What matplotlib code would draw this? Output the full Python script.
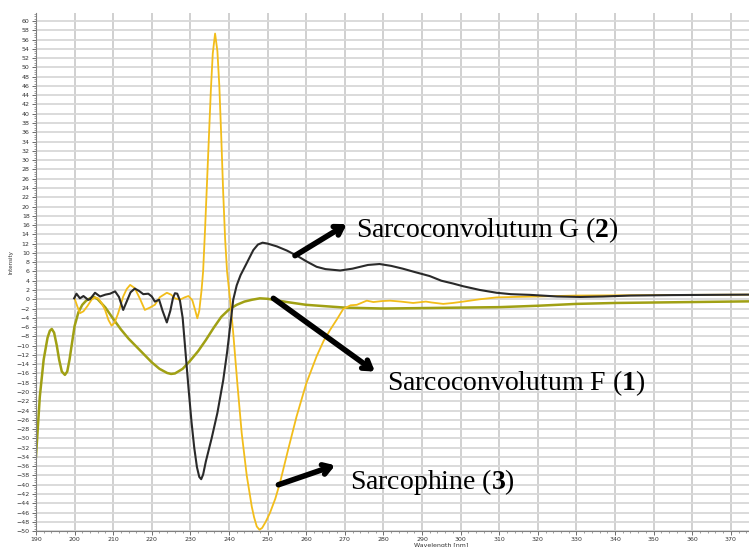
import matplotlib
matplotlib.use("Agg")
import matplotlib.pyplot as plt
from matplotlib.ticker import MultipleLocator

plt.rcParams['mathtext.fontset'] = 'custom'
plt.rcParams['mathtext.rm'] = 'Liberation Serif'
plt.rcParams['mathtext.bf'] = 'Liberation Serif:bold'

# Sarcoconvolutum F (1) - olive
wl_f = [190, 191, 192, 193, 193.6, 194.1, 194.7, 195.4, 196, 196.7, 197.5, 198.1, 198.7, 199.2,
        200, 201, 202, 203, 204, 205, 206, 208, 210, 212, 214, 216, 218, 220, 222, 224, 225,
        226, 228, 230, 232, 234, 236, 238, 240, 242, 244, 246, 248, 250, 255, 260, 265, 270,
        275, 280, 290, 300, 310, 320, 330, 340, 350, 360, 370, 375]
cd_f = [-34, -21, -13, -8.3, -6.8, -6.4, -7.2, -10, -13, -15.6, -16.3, -15.6, -13, -10.2,
        -5.8, -2.8, -1.2, -0.3, 0.2, 0.5, 0, -1.8, -4.2, -6.5, -8.5, -10.2, -11.9, -13.6, -15, -15.9,
        -16.1, -16, -15, -13.2, -11.2, -8.8, -6.2, -3.8, -2.2, -1.2, -0.5, -0.1, 0.2, 0.1, -0.6,
        -1.2, -1.5, -1.8, -1.9, -2.0, -1.9, -1.8, -1.7, -1.4, -1.0, -0.8, -0.7, -0.6, -0.5, -0.45]

# Sarcoconvolutum G (2) - black
wl_g = [199.9, 200.5, 201.4, 202.3, 203.5, 204, 205.3, 206.6, 208, 209.2, 210.5, 211.5, 212.6,
        213.5, 214.5, 215.6, 216.7, 217.8, 219.1, 220, 220.8, 221.9, 222.8, 223.9, 224.8, 225.5,
        226, 226.6, 227.3, 228, 228.7, 229.5, 230.3, 231, 231.7, 232.3, 232.8, 233.3, 234,
        235.5, 237, 238.5, 239.5, 240.5, 241.1, 242, 243, 244.6, 246.3, 247.5, 248.7, 250,
        252.4, 255, 258, 260, 262.7, 265, 268.8, 272, 276, 279, 282, 285, 288, 292, 295, 298,
        300.7, 305, 309.3, 313, 318, 325, 331, 337, 344, 355, 365, 375]
cd_g = [0.2, 1.2, 0.2, 0.7, -0.1, 0, 1.4, 0.6, 1.0, 1.2, 1.7, 0.5, -2.3,
        -0.5, 1.5, 2.3, 1.8, 1.1, 1.2, 0.6, -0.5, -0.1, -2.5, -5.0, -2.5, 0.3,
        1.3, 1.2, -0.3, -4, -11, -19, -26.5, -32, -36.2, -38.3, -38.8, -37.8, -35,
        -30, -24.5, -17.5, -11.5, -4.5, -0.1, 3, 5.2, 7.8, 10.6, 11.8, 12.2, 12.0,
        11.4, 10.5, 9.2, 8.2, 7, 6.5, 6.2, 6.6, 7.4, 7.6, 7.2, 6.6, 5.9, 5.0, 4.0, 3.4,
        2.8, 2.0, 1.4, 1.1, 0.95, 0.6, 0.5, 0.6, 0.8, 0.9, 0.95, 1.0]

# Sarcophine (3) - yellow
wl_s = [200, 200.7, 201.4, 202.3, 203.3, 204.4, 205.3, 206.1, 207, 207.9, 208.8, 209.6, 210.4,
        211.3, 212.6, 213.5, 214.4, 215.6, 217, 218.2, 219.5, 220.8, 222.1, 223.9, 225, 226,
        227.3, 228.5, 229.5, 230.5, 231.3, 231.8, 232.3, 232.9, 233.3, 233.8, 234.3, 234.8,
        235.3, 235.8, 236.4, 237, 237.5, 238, 238.5, 239, 239.5, 240.3, 241.1, 242.2, 243.3,
        244.6, 245.9, 246.5, 247.2, 247.9, 248.6, 249.5, 250.6, 252, 253.2, 255.3, 257.5, 260,
        262.7, 264.5, 266.2, 267.9, 269.6, 271.5, 273.1, 275.7, 277.4, 279.5, 281.7, 284.5,
        287.7, 291, 292.5, 295.5, 298, 300.7, 305, 309.3, 314, 319.7, 330, 340, 350, 360, 375]
cd_s = [0.2, -1.5, -3, -2.6, -1.5, -0.1, 0.4, 0.2, -0.8, -2.3, -4.5, -5.7, -5,
        -3, 0.6, 2.2, 3.1, 2.4, 0, -2.3, -1.8, -1.2, 0.45, 1.4, 1.0, 0.2,
        -0.1, 0.4, 0.7, -0.2, -2.5, -4.1, -2.5, 2, 6, 15, 25, 35,
        45, 53, 57.3, 53.5, 46, 35, 23, 13, 6, -0.1, -7.3, -18.5, -28.9,
        -38, -44.7, -47, -49, -49.7, -49.3, -48, -46.1, -43, -39.6, -32.5, -25.3, -18.2,
        -12.3, -9, -6.6, -4.4, -2.1, -1.3, -1.2, -0.3, -0.6, -0.4, -0.3, -0.5,
        -0.8, -0.5, -0.7, -1.0, -0.8, -0.5, 0, 0.4, 0.5, 0.6, 0.8, 0.85, 0.9, 0.95, 1.0]

fig = plt.figure(figsize=(7.49, 5.47), dpi=100)
ax = fig.add_axes([0.048, 0.029, 0.952, 0.947])

ax.plot(wl_f, cd_f, color='#a0a014', lw=1.8)
ax.plot(wl_s, cd_s, color='#f2bd1a', lw=1.3)
ax.plot(wl_g, cd_g, color='#2a2a2a', lw=1.5)

ax.set_xlim(190, 374.7)
ax.set_ylim(-50, 61.7)
ax.xaxis.set_major_locator(MultipleLocator(10))
ax.xaxis.set_minor_locator(MultipleLocator(2))
ax.yaxis.set_major_locator(MultipleLocator(2))
ax.yaxis.set_minor_locator(MultipleLocator(0.5))
ax.grid(True, which='major', axis='y', color='#d8d8d8', lw=1.3)
ax.grid(True, which='major', axis='x', color='#c8c8c8', lw=1.2)
ax.set_axisbelow(True)
ax.spines['top'].set_visible(False)
ax.spines['right'].set_visible(False)
ax.spines['left'].set_color('#808080')
ax.spines['bottom'].set_color('#808080')
ax.tick_params(axis='both', which='major', labelsize=4.5, length=3, width=0.6,
               colors='#555555', labelcolor='#333333', pad=1.5)
ax.tick_params(axis='both', which='minor', length=1.5, width=0.5, colors='#777777')

ax.set_ylabel('Intensity', fontsize=4, color='#333333')
ax.yaxis.set_label_coords(-0.032, 0.52)
ax.set_xlabel('Wavelength [nm]', fontsize=4.5, color='#333333')
ax.xaxis.set_label_coords(0.569, -0.022)

serif = 'Liberation Serif'
ap = dict(arrowstyle='->,head_length=0.55,head_width=0.35', lw=4, color='black',
          shrinkA=0, shrinkB=0)
ax.annotate('', xy=(270.5, 16.2), xytext=(257.1, 9.4), arrowprops=ap)
ax.annotate('', xy=(277.8, -15.6), xytext=(251.5, 0.2), arrowprops=ap)
ax.annotate('', xy=(267.5, -35.8), xytext=(252.8, -40), arrowprops=ap)

ax.text(272.8, 15.0, r'Sarcoconvolutum G ($\mathbf{2}$)', fontsize=20, family=serif,
        va='center', ha='left')
ax.text(280.9, -18.0, r'Sarcoconvolutum F ($\mathbf{1}$)', fontsize=20, family=serif,
        va='center', ha='left')
ax.text(271.3, -39.3, r'Sarcophine ($\mathbf{3}$)', fontsize=20, family=serif,
        va='center', ha='left')

fig.savefig('out.png', dpi=100)
